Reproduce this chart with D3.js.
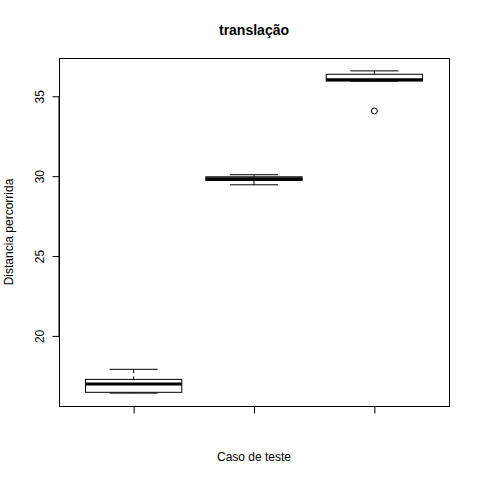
<!DOCTYPE html>
<meta charset="utf-8">
<script src="https://d3js.org/d3.v7.min.js"></script>
<style>
  body { margin: 0; background: #fff; }
  text { font-family: "Liberation Sans", Arial, sans-serif; fill: #000; }
</style>
<svg id="chart" width="480" height="480"></svg>
<script>
// boxplot stats per case: lower whisker, Q1, median, Q3, upper whisker
var cases = [1, 2, 3]
var lowW   = [16.42, 29.46, 35.95]
var q1     = [16.47, 29.73, 35.96]
var median = [16.99, 29.84, 36.03]
var q3     = [17.28, 29.96, 36.38]
var highW  = [17.91, 30.09, 36.59]
var outliers = [[], [], [34.08]]
var yTicks = [20, 25, 30, 35]

var svg = d3.select("#chart")
var pLeft = 59, pRight = 449, pTop = 58, pBottom = 406

// R style axis extension (4%)
var yMin = d3.min(lowW.concat(d3.merge(outliers))), yMax = d3.max(highW)
var ext = (yMax - yMin) * 0.04
var y = d3.scaleLinear().domain([yMin - ext, yMax + ext]).range([pBottom, pTop])
var x = d3.scaleLinear().domain([0.5 - 0.12, 3.5 + 0.12]).range([pLeft, pRight])

// plot frame
svg.append("rect")
  .attr("x", pLeft + 0.5).attr("y", pTop + 0.5)
  .attr("width", pRight - pLeft).attr("height", pBottom - pTop)
  .attr("fill", "none").attr("stroke", "#000")

// y axis
svg.append("g")
  .attr("transform", "translate(" + (pLeft + 0.5) + ",0)")
  .call(d3.axisLeft(y).tickValues(yTicks).tickSize(7).tickPadding(0).tickFormat(d3.format("d")))
  .call(function(g) {
    g.select(".domain").attr("d", "M-0.5," + y(20) + "V" + y(35)).attr("stroke", "#000")
    g.selectAll(".tick line").attr("stroke", "#000")
    g.selectAll(".tick text")
      .attr("x", 0).attr("dy", null)
      .attr("transform", "translate(-16,0) rotate(-90)")
      .attr("text-anchor", "middle")
      .attr("fill", "#000")
      .style("font-size", "12px")
      .style("font-family", "'Liberation Sans', Arial, sans-serif")
  })

// x axis (ticks only, no labels)
svg.append("g")
  .attr("transform", "translate(0," + (pBottom + 0.5) + ")")
  .call(d3.axisBottom(x).tickValues(cases).tickSize(7).tickFormat(""))
  .call(function(g) {
    g.select(".domain").attr("d", "M" + x(1) + ",0H" + x(3)).attr("stroke", "#000")
    g.selectAll(".tick line").attr("stroke", "#000")
  })

var boxW = 0.4, capW = 0.2
var boxes = svg.append("g").selectAll("g")
  .data(cases.map(function(c, i) {
    return { c: c, lo: lowW[i], q1: q1[i], med: median[i], q3: q3[i], hi: highW[i], out: outliers[i] }
  }))
  .enter().append("g")

// whiskers (dashed)
boxes.append("line")
  .attr("x1", function(d) { return x(d.c) }).attr("x2", function(d) { return x(d.c) })
  .attr("y1", function(d) { return y(d.hi) }).attr("y2", function(d) { return y(d.q3) })
  .attr("stroke", "#000").style("stroke-dasharray", "4,3")
boxes.append("line")
  .attr("x1", function(d) { return x(d.c) }).attr("x2", function(d) { return x(d.c) })
  .attr("y1", function(d) { return y(d.lo) }).attr("y2", function(d) { return y(d.q1) })
  .attr("stroke", "#000").style("stroke-dasharray", "4,3")

// caps
boxes.append("line")
  .attr("x1", function(d) { return x(d.c - capW) }).attr("x2", function(d) { return x(d.c + capW) })
  .attr("y1", function(d) { return y(d.hi) }).attr("y2", function(d) { return y(d.hi) })
  .attr("stroke", "#000")
boxes.append("line")
  .attr("x1", function(d) { return x(d.c - capW) }).attr("x2", function(d) { return x(d.c + capW) })
  .attr("y1", function(d) { return y(d.lo) }).attr("y2", function(d) { return y(d.lo) })
  .attr("stroke", "#000")

// boxes
boxes.append("rect")
  .attr("x", function(d) { return x(d.c - boxW) })
  .attr("width", function(d) { return x(d.c + boxW) - x(d.c - boxW) })
  .attr("y", function(d) { return y(d.q3) })
  .attr("height", function(d) { return y(d.q1) - y(d.q3) })
  .attr("fill", "#fff").attr("stroke", "#000")

// medians
boxes.append("line")
  .attr("x1", function(d) { return x(d.c - boxW) }).attr("x2", function(d) { return x(d.c + boxW) })
  .attr("y1", function(d) { return y(d.med) }).attr("y2", function(d) { return y(d.med) })
  .attr("stroke", "#000").attr("stroke-width", 3)

// outliers
boxes.selectAll("circle")
  .data(function(d) { return d.out.map(function(v) { return { c: d.c, v: v } }) })
  .enter().append("circle")
  .attr("cx", function(d) { return x(d.c) })
  .attr("cy", function(d) { return y(d.v) })
  .attr("r", 3)
  .attr("fill", "none").attr("stroke", "#000")

// titles
svg.append("text")
  .attr("x", (pLeft + pRight) / 2).attr("y", 35)
  .attr("text-anchor", "middle")
  .style("font-size", "14px").style("font-weight", "bold")
  .text("translação")

svg.append("text")
  .attr("x", (pLeft + pRight) / 2).attr("y", 461)
  .attr("text-anchor", "middle")
  .style("font-size", "12px")
  .text("Caso de teste")

svg.append("text")
  .attr("transform", "translate(13," + ((pTop + pBottom) / 2) + ") rotate(-90)")
  .attr("text-anchor", "middle")
  .style("font-size", "12px")
  .text("Distancia percorrida")
</script>
